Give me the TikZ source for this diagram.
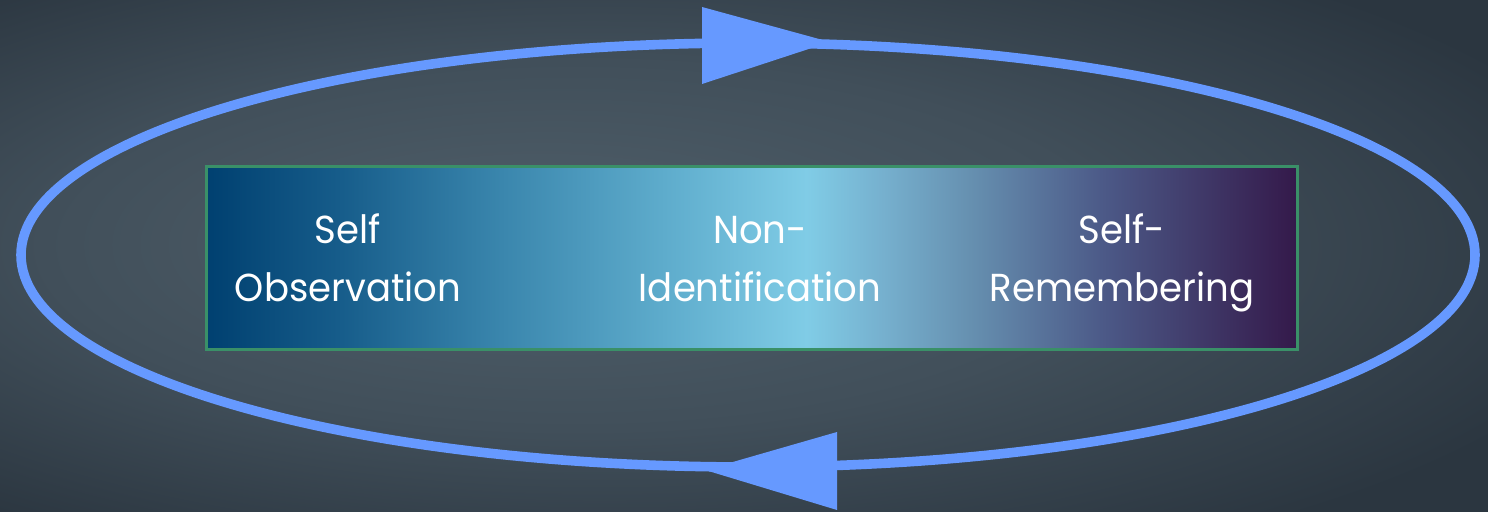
\documentclass[tikz,border=0pt]{standalone}
\usepackage{fontspec}
\newfontfamily\labelfont[FakeStretch=0.95]{Poppins}

\definecolor{bginner}{HTML}{4B5A65}
\definecolor{bgmid}{HTML}{414F5A}
\definecolor{bgouter}{HTML}{2B3640}
\definecolor{cyclecol}{HTML}{6699FF}
\definecolor{boxedge}{HTML}{3A9068}
\definecolor{g0}{HTML}{004070}
\definecolor{g1}{HTML}{165C8A}
\definecolor{g2}{HTML}{3A86AD}
\definecolor{g3}{HTML}{5EACCC}
\definecolor{g4}{HTML}{80CCE6}
\definecolor{g5}{HTML}{76B0CE}
\definecolor{g6}{HTML}{6690B0}
\definecolor{g7}{HTML}{4C5A88}
\definecolor{g8}{HTML}{34194A}

% horizontal blend across the box: the path spans 25bp to 75bp
\pgfdeclarehorizontalshading{boxshade}{100bp}{%
  color(0bp)=(g0); color(25bp)=(g0); color(31bp)=(g1); color(38.5bp)=(g2);
  color(46bp)=(g3); color(52.5bp)=(g4); color(56bp)=(g5); color(60bp)=(g6);
  color(66bp)=(g7); color(75bp)=(g8); color(100bp)=(g8)}

% soft glow of the backdrop, left of centre
\pgfdeclareradialshading{bgshade}{\pgfpoint{-8bp}{1.5bp}}{%
  color(0bp)=(bginner); color(6bp)=(bginner); color(18bp)=(bgmid);
  color(34bp)=(bgouter); color(60bp)=(bgouter)}

\tikzset{
  cycleline/.style={draw=cyclecol, line width=4.8pt},
  cyclehead/.style={fill=cyclecol},
  stagebox/.style={draw=boxedge, line width=1.7pt, shading=boxshade,
    rectangle, minimum width=545.5pt, minimum height=91.5pt, inner sep=0pt},
  stagelabel/.style={text=white, align=center, anchor=base, inner sep=0pt,
    font=\labelfont\fontsize{19.5}{29}\selectfont}
}

\begin{document}
\begin{tikzpicture}[x=0.5pt, y=-0.5pt]
  % backdrop and frame
  \path[shading=bgshade] (0,0) rectangle (1488,512);
  \useasboundingbox (0,0) rectangle (1488,512);

  % the cycle around the stages
  \draw[cycleline] (748,255) ellipse [x radius=727, y radius=212];
  \fill[cyclehead] (702,7) -- (830,42) -- (702,84) -- cycle;
  \fill[cyclehead] (837,432) -- (705,470) -- (837,510) -- cycle;

  % the three stages (base anchor sits on the second line)
  \node[stagebox] (box) at (752,258) {};
  \node[stagelabel] (obs) at (348,302) {Self\\Observation};
  \node[stagelabel] (nonid) at (760,302) {Non-\\Identification};
  \node[stagelabel] (remem) at (1122,302) {Self-\\Remembering};
\end{tikzpicture}
\end{document}
